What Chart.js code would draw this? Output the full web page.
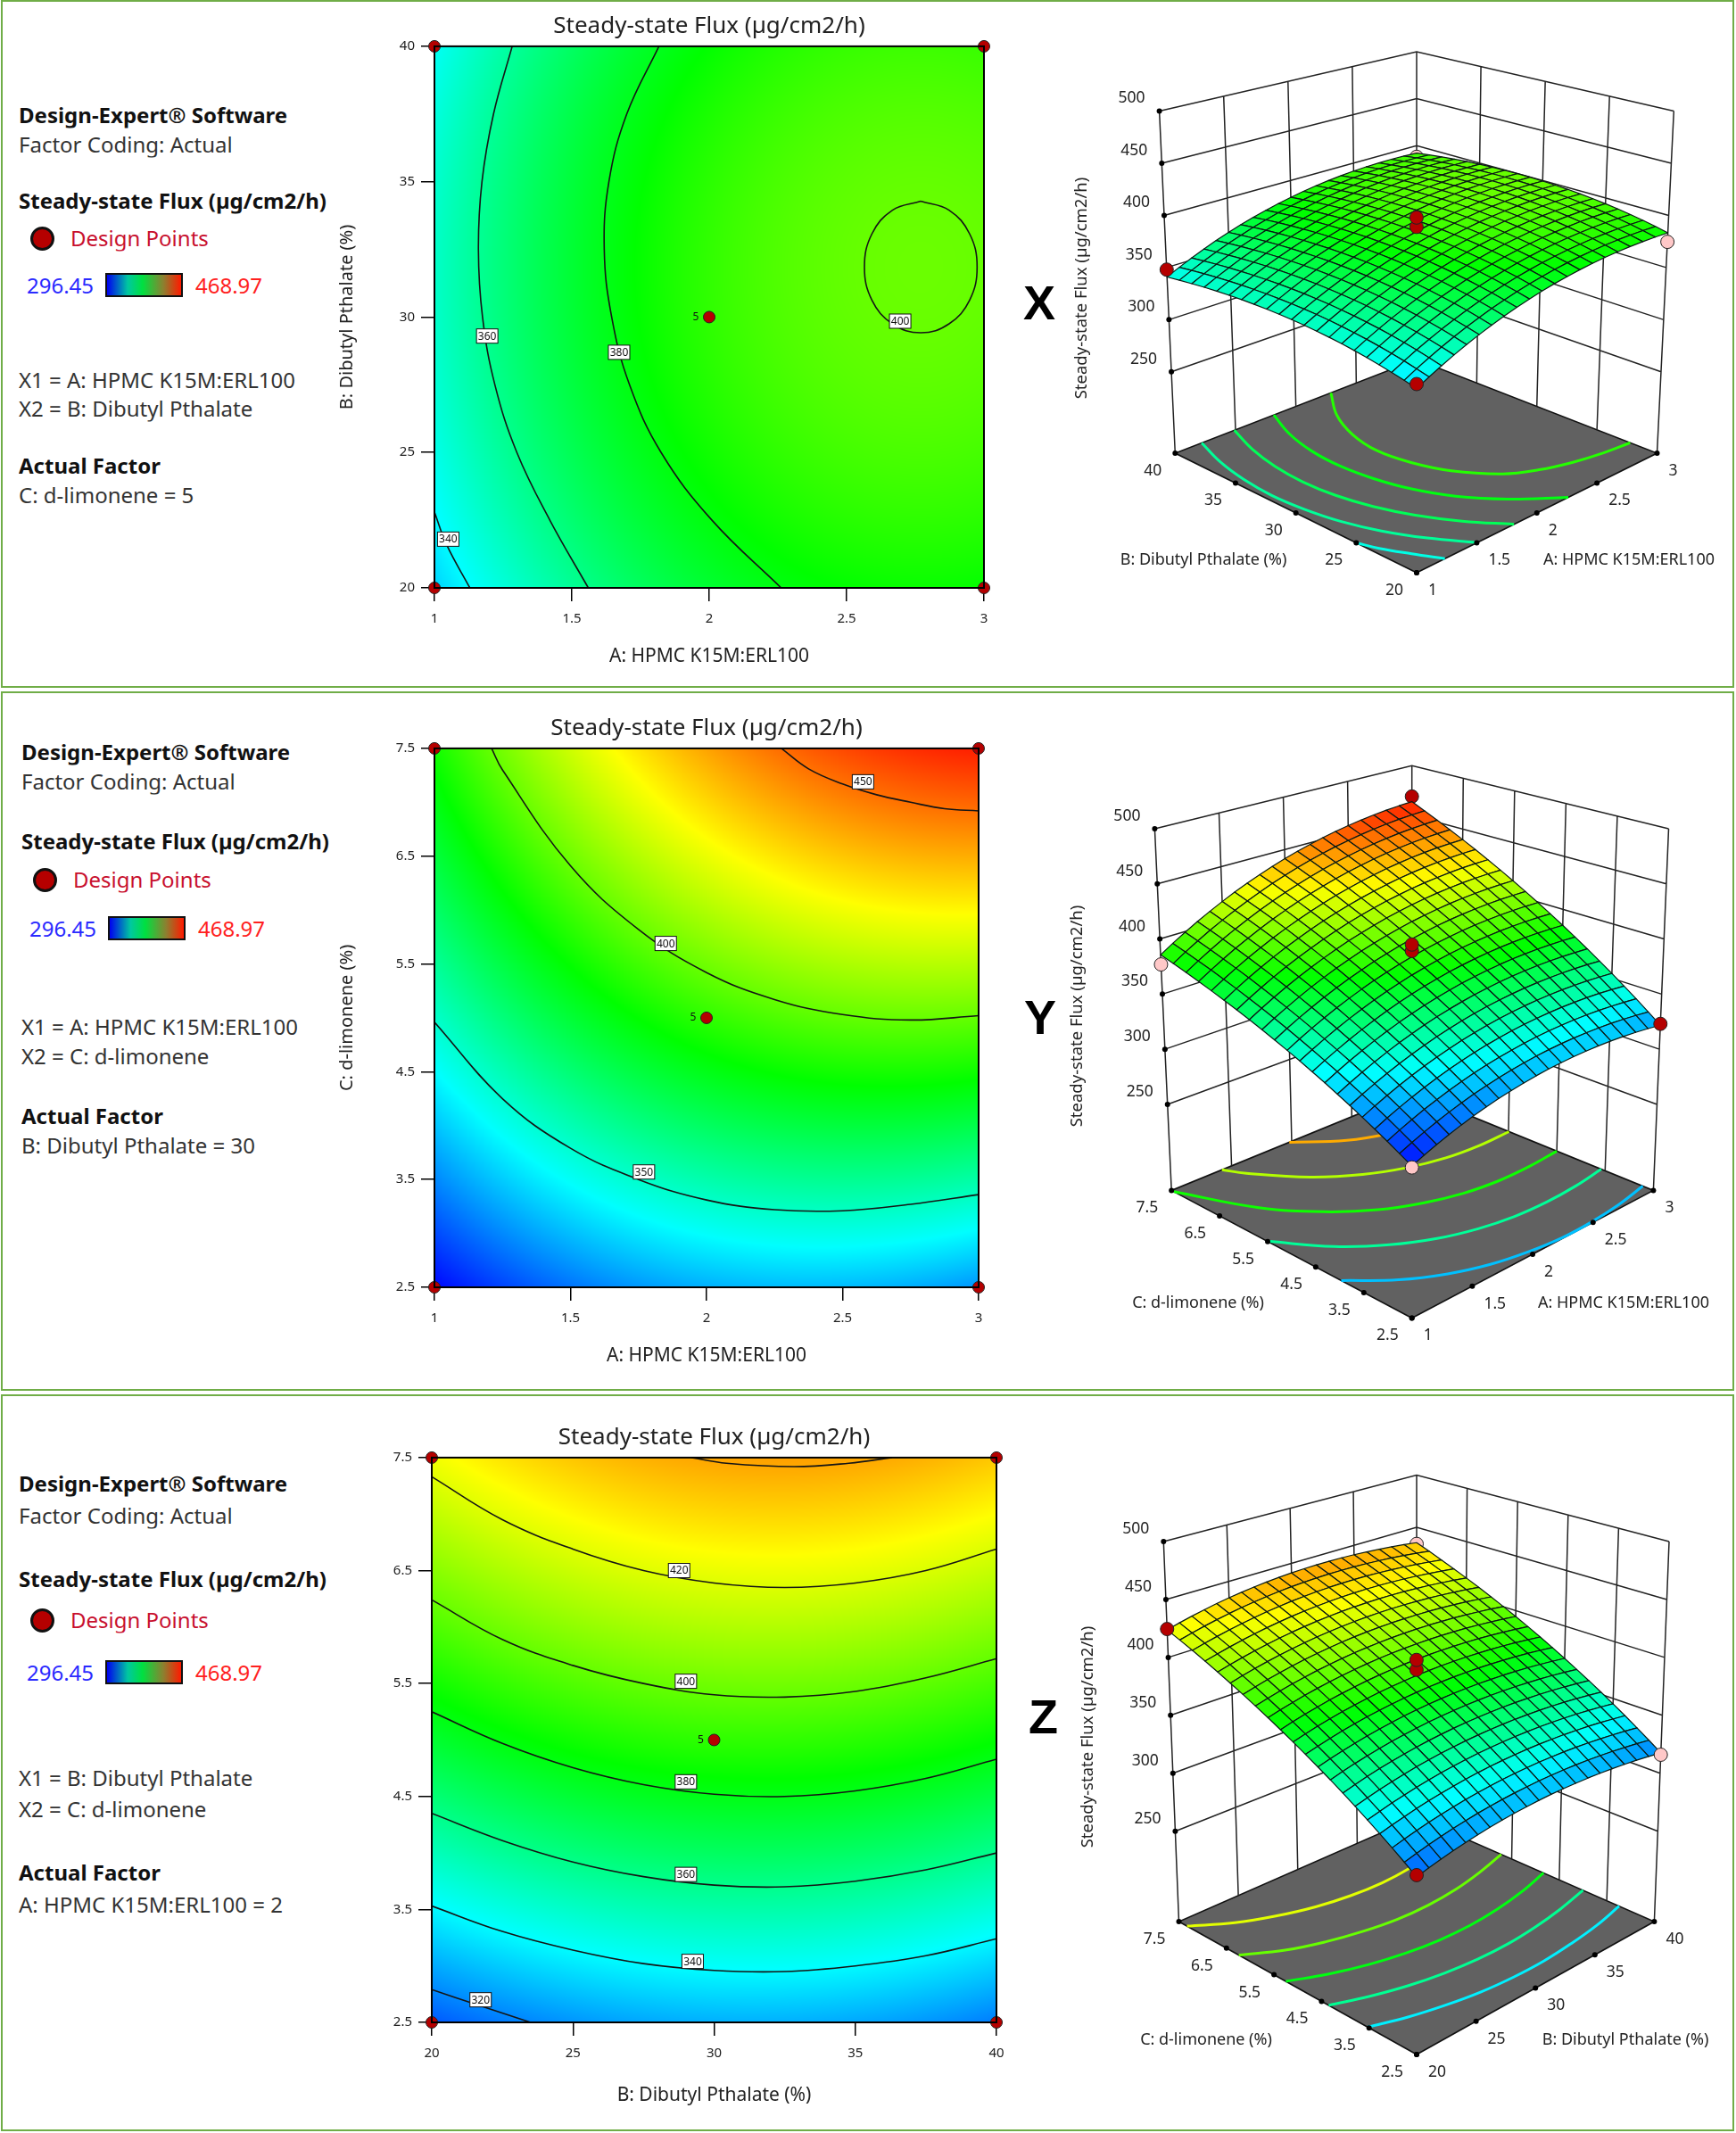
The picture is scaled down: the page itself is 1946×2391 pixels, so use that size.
<!DOCTYPE html>
<html>
<head>
<meta charset="utf-8">
<title>Steady-state Flux</title>
<script src="https://cdn.jsdelivr.net/npm/chart.js@4"></script>
<style>
body { margin: 0; width: 1946px; height: 2391px; position: relative; overflow: hidden; background: #fff; font-family: "Noto Sans", sans-serif; }
canvas { position: absolute; }
.frame { position: absolute; border: 2px solid #70ad47; box-sizing: border-box; }
.txt { position: absolute; white-space: nowrap; transform: translateY(-50%); line-height: 1.2; font-size: 24px; color: #333; overflow: hidden; }
.b { font-weight: 700; color: #111; }
.bar { position: absolute; box-sizing: border-box; border: 2px solid #111; background: linear-gradient(90deg, #0000f0, #00c8a0 28%, #00e040 48%, #8c8030 76%, #ff1a00); }
.dot { position: absolute; box-sizing: border-box; border-radius: 50%; background: #b50000; border: 3px solid #111; }
.letter { position: absolute; font: 700 54px "Liberation Sans", sans-serif; line-height: 1; color: #000; }
</style>
</head>
<body>
<script>
// tick labels
const ticksA = [1, 1.5, 2, 2.5, 3];
const ticksB = [20, 25, 30, 35, 40];
const ticksC = [2.5, 3.5, 4.5, 5.5, 6.5, 7.5];
const ticksFlux = [250, 300, 350, 400, 450, 500];
const fluxFloor = 172; // where the 3D flux axis meets the floor

// flux at 5 x 5 factor settings
// rows B = 20,25,30,35,40, columns A = 1,1.5,2,2.5,3 (C = 5)
const fluxAB = [
	[332.1, 357.3, 374.3, 382.9, 383.3],
	[343.2, 368.4, 385.3, 394.0, 394.3],
	[348.3, 373.5, 390.5, 399.1, 399.4],
	[347.5, 372.7, 389.7, 398.3, 398.7],
	[340.9, 366.1, 383.0, 391.7, 392.0]
];
// rows C = 2.5,3.75,5,6.25,7.5, columns A = 1,1.5,2,2.5,3 (B = 30)
const fluxAC = [
	[297.6, 316.1, 326.3, 328.2, 321.8],
	[324.6, 346.5, 360.1, 365.3, 362.3],
	[348.3, 373.5, 390.5, 399.1, 399.5],
	[368.6, 397.3, 417.6, 429.6, 433.3],
	[385.6, 417.6, 441.3, 456.7, 463.8]
];
// rows C = 2.5,3.75,5,6.25,7.5, columns B = 20,25,30,35,40 (A = 2)
const fluxBC = [
	[311.4, 321.8, 326.3, 324.9, 317.6],
	[344.6, 355.3, 360.1, 359.0, 352.0],
	[374.3, 385.4, 390.5, 389.7, 383.1],
	[400.8, 412.1, 417.6, 417.1, 410.8],
	[423.8, 435.5, 441.3, 441.2, 435.2]
];

// contour lines of the 2D plots
const contourAB340 = [[1, 22.8], [1.044, 21.6], [1.129, 20]];
const contourAB360 = [[1.283, 40], [1.215, 37.5], [1.173, 35], [1.16, 32.5], [1.175, 30], [1.22, 27.5], [1.3, 25], [1.42, 22.5], [1.56, 20]];
const contourAB380 = [[1.817, 40], [1.7, 37.5], [1.635, 35], [1.618, 32.5], [1.645, 30], [1.71, 27.5], [1.825, 25], [2.01, 22.5], [2.262, 20]];
const contourAB400 = [[2.77, 34.28], [2.873, 33.95], [2.948, 33.07], [2.975, 31.85], [2.948, 30.63], [2.873, 29.75], [2.77, 29.42], [2.667, 29.75], [2.592, 30.63], [2.565, 31.85], [2.592, 33.07], [2.667, 33.95], [2.77, 34.28]];

const contourAC350 = [[1, 4.96], [1.25, 4.25], [1.5, 3.79], [1.75, 3.5], [2, 3.31], [2.25, 3.22], [2.5, 3.21], [2.75, 3.27], [3, 3.36]];
const contourAC400 = [[1.21, 7.5], [1.25, 7.3], [1.5, 6.41], [1.75, 5.82], [2, 5.42], [2.25, 5.17], [2.5, 5.03], [2.75, 4.98], [3, 5.02]];
const contourAC450 = [[2.275, 7.5], [2.375, 7.31], [2.5, 7.17], [2.625, 7.07], [2.75, 7.0], [2.875, 6.94], [3, 6.92]];

const contourBC320 = [[20, 2.79], [21.68, 2.65], [23.5, 2.5]];
const contourBC340 = [[20, 3.53], [22.5, 3.305], [25, 3.14], [27.5, 3.02], [30, 2.96], [32.5, 2.95], [35, 3.0], [37.5, 3.09], [40, 3.24]];
const contourBC360 = [[20, 4.35], [22.5, 4.11], [25, 3.92], [27.5, 3.79], [30, 3.715], [32.5, 3.7], [35, 3.75], [37.5, 3.85], [40, 4.0]];
const contourBC380 = [[20, 5.25], [22.5, 4.97], [25, 4.755], [27.5, 4.605], [30, 4.52], [32.5, 4.5], [35, 4.55], [37.5, 4.66], [40, 4.83]];
const contourBC400 = [[20, 6.24], [22.5, 5.89], [25, 5.66], [27.5, 5.5], [30, 5.4], [32.5, 5.38], [35, 5.43], [37.5, 5.55], [40, 5.72]];
const contourBC420 = [[20, 7.33], [22.5, 6.95], [25, 6.69], [27.5, 6.5], [30, 6.39], [32.5, 6.35], [35, 6.39], [37.5, 6.5], [40, 6.69]];
const contourBC440 = [[29.2, 7.5], [30.44, 7.45], [32.83, 7.42], [34.77, 7.45], [36.3, 7.5]];

// contour labels: x, y, text
const labelsAB = [[1.05, 21.8, '340'], [1.192, 29.3, '360'], [1.672, 28.7, '380'], [2.695, 29.85, '400']];
const labelsAC = [[1.77, 3.57, '350'], [1.85, 5.69, '400'], [2.575, 7.19, '450']];
const labelsBC = [[21.73, 2.7, '320'], [29.24, 3.04, '340'], [29, 3.81, '360'], [29, 4.63, '380'], [29, 5.52, '400'], [28.76, 6.5, '420']];

// contours on the floor of the 3D plots, with their flux level
const floorAB = [
	[344, [[1, 25], [1.05, 23.6], [1.14, 21.8], [1.235, 20]]],
	[357, [[1.22, 40], [1.125, 37.5], [1.07, 35], [1.05, 32.5], [1.07, 30], [1.12, 27.5], [1.21, 25], [1.34, 22.5], [1.505, 20]]],
	[368, [[1.49, 40], [1.39, 37.5], [1.33, 35], [1.31, 32.5], [1.33, 30], [1.39, 27.5], [1.49, 25], [1.63, 22.5], [1.81, 20]]],
	[380, contourAB380],
	[389, [[2.29, 40], [2.09, 37.5], [1.97, 35], [1.92, 32.5], [1.95, 30], [2.04, 27.5], [2.22, 25], [2.4, 23.8], [2.6, 23], [2.8, 22.5], [3, 22.24]]]
];
const floorAC = [
	[329, [[1, 3.97], [1.25, 3.4], [1.5, 3.01], [1.75, 2.75], [2, 2.6], [2.25, 2.52], [2.5, 2.525], [2.75, 2.59], [3, 2.72]]],
	[357, [[1, 5.51], [1.25, 4.74], [1.5, 4.22], [1.75, 3.86], [2, 3.63], [2.25, 3.5], [2.5, 3.46], [2.75, 3.49], [3, 3.58]]],
	[385, [[1, 7.45], [1.25, 6.31], [1.5, 5.59], [1.75, 5.09], [2, 4.77], [2.25, 4.56], [2.5, 4.46], [2.75, 4.45], [3, 4.5]]],
	[413, [[1.42, 7.5], [1.5, 7.19], [1.75, 6.49], [2, 6.03], [2.25, 5.73], [2.5, 5.55], [2.75, 5.48], [3, 5.49]]],
	[440, [[1.98, 7.5], [2.25, 6.98], [2.5, 6.71], [2.75, 6.57], [3, 6.51]]]
];
const floorBC = [
	[337, contourBC340],
	[358, contourBC360],
	[380, contourBC380],
	[400, contourBC400],
	[421, contourBC420]
];

// design points: first factor, second factor, flux
const designAB = [[1, 20, 336], [1, 40, 348], [3, 20, 374.6], [3, 40, 388], [2, 30, 395], [2, 30, 404]];
const designAC = [[1, 2.5, 296.45], [1, 7.5, 376.9], [3, 2.5, 323], [3, 7.5, 468.97], [2, 5, 395.8], [2, 5, 401.6]];
const designBC = [[20, 2.5, 312.8], [20, 7.5, 424.5], [40, 2.5, 316], [40, 7.5, 434], [30, 5, 395.5], [30, 5, 404]];
const centerCount = '5';

const plotTitle = 'Steady-state Flux (µg/cm2/h)';
const nameA = 'A: HPMC K15M:ERL100';
const nameB = 'B: Dibutyl Pthalate (%)';
const nameC = 'C: d-limonene (%)';

const fluxMin = 296.45;
const fluxMax = 468.97;
const colorStops = [[0, 0, 255], [0, 255, 255], [0, 255, 0], [255, 255, 0], [255, 0, 0]];

Chart.defaults.font.family = '"Noto Sans", sans-serif';

function fluxRgb(v) {
	const t = Math.min(0.9999, Math.max(0, (v - fluxMin) / (fluxMax - fluxMin))) * 4;
	const i = Math.floor(t), f = t - i;
	const a = colorStops[i], b = colorStops[i + 1];
	return [a[0] + (b[0] - a[0]) * f, a[1] + (b[1] - a[1]) * f, a[2] + (b[2] - a[2]) * f];
}
function fluxColor(v) {
	const c = fluxRgb(v);
	return 'rgb(' + Math.round(c[0]) + ',' + Math.round(c[1]) + ',' + Math.round(c[2]) + ')';
}

// shading weights between the 5 table rows / columns
function nodeWeights(t) {
	const w = [];
	for (let i = 0; i < 5; i++) {
		let p = 1;
		for (let j = 0; j < 5; j++) {
			if (j !== i) p *= (t - j / 4) / ((i - j) / 4);
		}
		w.push(p);
	}
	return w;
}
function tableValue(table, wu, wv) {
	let s = 0;
	for (let r = 0; r < 5; r++) {
		for (let c = 0; c < 5; c++) s += table[r][c] * wu[c] * wv[r];
	}
	return s;
}

const toXY = (p) => ({ x: p[0], y: p[1] });
const at = (arr) => arr[0];
const last = (arr) => arr[arr.length - 1];

// ---------- page furniture ----------
function addText(text, x, y, cls, color, width) {
	const d = document.createElement('div');
	d.className = 'txt ' + (cls || '');
	d.textContent = text;
	d.style.left = x + 'px';
	d.style.top = y + 'px';
	if (color) d.style.color = color;
	if (width) d.style.width = width + 'px';
	document.body.appendChild(d);
}
function addBox(cls, x, y, w, h) {
	const d = document.createElement('div');
	d.className = cls;
	d.style.cssText = 'left:' + x + 'px;top:' + y + 'px;width:' + w + 'px;height:' + h + 'px';
	document.body.appendChild(d);
}
function addSidebar(s) {
	addText('Design-Expert® Software', s.x, s.y[0], 'b');
	addText('Factor Coding: Actual', s.x, s.y[1]);
	addText(plotTitle, s.x, s.y[2], 'b', null, s.clip);
	addBox('dot', s.x + 13, s.y[3] - 13, 27, 27);
	addText('Design Points', s.x + 58, s.y[3], '', '#c8102e');
	addText('296.45', s.x + 9, s.y[4], '', '#2a2aff');
	addBox('bar', s.x + 97, s.y[4] - 14, 87, 27);
	addText('468.97', s.x + 198, s.y[4], '', '#ff2020');
	addText(s.lines[0], s.x, s.y[5]);
	addText(s.lines[1], s.x, s.y[6]);
	addText('Actual Factor', s.x, s.y[7], 'b');
	addText(s.lines[2], s.x, s.y[8]);
}
function addLetter(text, x, y) {
	const d = document.createElement('div');
	d.className = 'letter';
	d.textContent = text;
	d.style.left = x + 'px';
	d.style.top = y + 'px';
	document.body.appendChild(d);
}
function newCanvas(x, y, w, h) {
	const c = document.createElement('canvas');
	c.width = w;
	c.height = h;
	c.style.left = x + 'px';
	c.style.top = y + 'px';
	document.body.appendChild(c);
	return c;
}

addBox('frame', 1, 0, 1943, 771);
addBox('frame', 1, 775, 1943, 784);
addBox('frame', 1, 1563, 1943, 826);

addSidebar({ x: 21, y: [129, 162, 225, 267, 320, 426, 458, 522, 555],
	lines: ['X1 = A: HPMC K15M:ERL100', 'X2 = B: Dibutyl Pthalate', 'C: d-limonene = 5'] });
addSidebar({ x: 24, y: [843, 876, 943, 986, 1041, 1151, 1184, 1251, 1284], clip: 347,
	lines: ['X1 = A: HPMC K15M:ERL100', 'X2 = C: d-limonene', 'B: Dibutyl Pthalate = 30'] });
addSidebar({ x: 21, y: [1663, 1699, 1770, 1816, 1875, 1993, 2028, 2099, 2135],
	lines: ['X1 = B: Dibutyl Pthalate', 'X2 = C: d-limonene', 'A: HPMC K15M:ERL100 = 2'] });

addLetter('X', 1147, 312);
addLetter('Y', 1148, 1113);
addLetter('Z', 1153, 1897);

// ---------- 2D contour plots ----------
function heatPlugin(table) {
	return {
		id: 'heat',
		beforeDatasetsDraw(chart) {
			const a = chart.chartArea, xs = chart.scales.x, ys = chart.scales.y;
			const w = Math.round(a.right - a.left), h = Math.round(a.bottom - a.top);
			const off = document.createElement('canvas');
			off.width = w;
			off.height = h;
			const octx = off.getContext('2d');
			const img = octx.createImageData(w, h);
			const wx = [], wy = [];
			for (let i = 0; i < w; i++) wx.push(nodeWeights((xs.getValueForPixel(a.left + i + 0.5) - xs.min) / (xs.max - xs.min)));
			for (let j = 0; j < h; j++) wy.push(nodeWeights((ys.getValueForPixel(a.top + j + 0.5) - ys.min) / (ys.max - ys.min)));
			let k = 0;
			for (let j = 0; j < h; j++) {
				for (let i = 0; i < w; i++) {
					const c = fluxRgb(tableValue(table, wx[i], wy[j]));
					img.data[k++] = c[0];
					img.data[k++] = c[1];
					img.data[k++] = c[2];
					img.data[k++] = 255;
				}
			}
			octx.putImageData(img, 0, 0);
			chart.ctx.drawImage(off, a.left, a.top);
		}
	};
}

const contourLabelPlugin = {
	id: 'contourLabels',
	afterDatasetsDraw(chart) {
		const { ctx, chartArea: a, scales: { x, y } } = chart;
		ctx.save();
		ctx.strokeStyle = '#000';
		ctx.lineWidth = 2;
		ctx.strokeRect(a.left, a.top, a.right - a.left, a.bottom - a.top);
		ctx.font = '12px "Noto Sans"';
		ctx.textAlign = 'center';
		ctx.textBaseline = 'middle';
		chart.config.options.contourLabels.forEach((l) => {
			const px = x.getPixelForValue(l[0]), py = y.getPixelForValue(l[1]);
			ctx.fillStyle = '#fff';
			ctx.fillRect(px - 12, py - 8, 24, 16);
			ctx.strokeStyle = '#111';
			ctx.lineWidth = 1;
			ctx.strokeRect(px - 12, py - 8, 24, 16);
			ctx.fillStyle = '#111';
			ctx.fillText(l[2], px, py + 0.5);
		});
		// replicate count beside the centre point
		const c = chart.config.options.centerPoint;
		ctx.fillStyle = '#111';
		ctx.fillText(centerCount, x.getPixelForValue(c[0]) - 15, y.getPixelForValue(c[1]));
		ctx.restore();
	}
};

function contourChart(cfg) {
	const p = cfg.plot;
	const canvas = newCanvas(p.l - 110, p.t - 37, p.r - p.l + 140, p.b - p.t + 37 + cfg.under);
	const xMin = at(cfg.xTicks), xMax = last(cfg.xTicks), yMin = at(cfg.yTicks), yMax = last(cfg.yTicks);
	const lines = cfg.contours.map((c) => ({
		data: c.map(toXY), showLine: true, pointRadius: 0, tension: 0.4,
		borderColor: '#151515', borderWidth: 1.6
	}));
	const points = [[xMin, yMin], [xMin, yMax], [xMax, yMin], [xMax, yMax], cfg.center];
	lines.push({
		data: points.map(toXY), pointRadius: 6.5, pointBackgroundColor: '#b50000',
		pointBorderColor: '#222', pointBorderWidth: 1, clip: false
	});
	const tickSide = { drawOnChartArea: false, drawTicks: true, tickLength: 15, color: '#000', lineWidth: 1.5 };
	new Chart(canvas, {
		type: 'scatter',
		data: { datasets: lines },
		plugins: [heatPlugin(cfg.table), contourLabelPlugin],
		options: {
			responsive: false,
			animation: false,
			events: [],
			contourLabels: cfg.labels,
			centerPoint: cfg.center,
			layout: { autoPadding: false, padding: { right: 30 } },
			plugins: {
				legend: { display: false },
				tooltip: { enabled: false },
				title: {
					display: true, text: plotTitle, fullSize: false, color: '#222',
					font: { size: 26, weight: 'normal', lineHeight: 1.15 },
					padding: { top: 0, bottom: 7 }
				}
			},
			scales: {
				x: {
					type: 'linear', min: xMin, max: xMax,
					grid: tickSide,
					border: { color: '#000', width: 2 },
					ticks: { color: '#222', font: { size: 15 }, padding: 11, maxRotation: 0, autoSkip: false, callback: (v) => String(v) },
					title: { display: true, text: cfg.xTitle, color: '#222', font: { size: 21 }, padding: 0 },
					afterBuildTicks: (s) => { s.ticks = cfg.xTicks.map((v) => ({ value: v })); },
					afterFit: (s) => { s.height = cfg.under; s.paddingLeft = 0; s.paddingRight = 0; }
				},
				y: {
					type: 'linear', min: yMin, max: yMax,
					grid: tickSide,
					border: { color: '#000', width: 2 },
					ticks: { color: '#222', font: { size: 15 }, padding: 7, autoSkip: false, callback: (v) => String(v) },
					title: { display: !!cfg.yTitle, text: cfg.yTitle || '', color: '#222', font: { size: 20 }, padding: 0 },
					afterBuildTicks: (s) => { s.ticks = cfg.yTicks.map((v) => ({ value: v })); },
					afterFit: (s) => { s.width = 110; s.paddingTop = 0; s.paddingBottom = 0; }
				}
			}
		}
	});
}

contourChart({
	plot: { l: 487, r: 1103, t: 52, b: 659 }, under: 90,
	xTicks: ticksA, yTicks: ticksB, xTitle: nameA, yTitle: nameB,
	table: fluxAB, center: [2, 30], labels: labelsAB,
	contours: [contourAB340, contourAB360, contourAB380, contourAB400]
});
contourChart({
	plot: { l: 487, r: 1097, t: 839, b: 1443 }, under: 90,
	xTicks: ticksA, yTicks: ticksC, xTitle: nameA, yTitle: nameC,
	table: fluxAC, center: [2, 5], labels: labelsAC,
	contours: [contourAC350, contourAC400, contourAC450]
});
contourChart({
	plot: { l: 484, r: 1117, t: 1634, b: 2267 }, under: 95,
	xTicks: ticksB, yTicks: ticksC, xTitle: nameB,
	table: fluxBC, center: [30, 5], labels: labelsBC,
	contours: [contourBC320, contourBC340, contourBC360, contourBC380, contourBC400, contourBC420, contourBC440]
});

// ---------- 3D surface plots ----------
// the box is given by its eight corners on the hidden x/y scales:
// f front, r right, l left, k back; the *t ones are the top of the box
function boxPoint(box, u, v, w) {
	const bil = (a, b, c, d, i) => (1 - u) * (1 - v) * a[i] + u * (1 - v) * b[i] + (1 - u) * v * c[i] + u * v * d[i];
	const out = [];
	for (let i = 0; i < 2; i++) {
		out.push((1 - w) * bil(box.f, box.r, box.l, box.k, i) + w * bil(box.ft, box.rt, box.lt, box.kt, i));
	}
	return { x: out[0], y: out[1] };
}

function surfacePlugin(table, box, toW) {
	return {
		id: 'surface',
		beforeDatasetDraw(chart, args) {
			if (!chart.data.datasets[args.index].inFrontOfSurface) return;
			const { ctx, scales: { x, y } } = chart;
			const n = 20;
			const px = [], val = [];
			for (let j = 0; j <= n; j++) {
				px.push([]);
				val.push([]);
				const wv = nodeWeights(j / n);
				for (let i = 0; i <= n; i++) {
					const v = tableValue(table, nodeWeights(i / n), wv);
					const p = boxPoint(box, i / n, j / n, toW(v));
					px[j].push([x.getPixelForValue(p.x), y.getPixelForValue(p.y)]);
					val[j].push(v);
				}
			}
			ctx.save();
			ctx.lineJoin = 'round';
			for (let j = n - 1; j >= 0; j--) {
				for (let i = n - 1; i >= 0; i--) {
					ctx.beginPath();
					ctx.moveTo(px[j][i][0], px[j][i][1]);
					ctx.lineTo(px[j][i + 1][0], px[j][i + 1][1]);
					ctx.lineTo(px[j + 1][i + 1][0], px[j + 1][i + 1][1]);
					ctx.lineTo(px[j + 1][i][0], px[j + 1][i][1]);
					ctx.closePath();
					ctx.fillStyle = fluxColor((val[j][i] + val[j][i + 1] + val[j + 1][i] + val[j + 1][i + 1]) / 4);
					ctx.fill();
					ctx.strokeStyle = '#0a1a14';
					ctx.lineWidth = 1.2;
					ctx.stroke();
				}
			}
			ctx.restore();
		}
	};
}

const boxTextPlugin = {
	id: 'boxText',
	afterDatasetsDraw(chart) {
		const { ctx, scales: { x, y } } = chart;
		const o = chart.config.options.boxText;
		ctx.save();
		ctx.fillStyle = '#222';
		ctx.font = '17.5px "Noto Sans"';
		ctx.textBaseline = 'middle';
		const put = (t, p, dx, dy, align) => {
			ctx.textAlign = align;
			ctx.fillText(t, x.getPixelForValue(p.x) + dx, y.getPixelForValue(p.y) + dy);
		};
		o.uLabels.forEach((l) => put(String(l[0]), l[1], 13, 20, 'left'));
		o.vLabels.forEach((l) => put(String(l[0]), l[1], -15, 20, 'right'));
		o.zLabels.forEach((l) => put(String(l[0]), l[1], -16, -14, 'right'));
		ctx.font = '18px "Noto Sans"';
		ctx.textAlign = 'center';
		ctx.fillText(o.uName, x.getPixelForValue(o.uAt[0]), y.getPixelForValue(o.uAt[1]));
		ctx.fillText(o.vName, x.getPixelForValue(o.vAt[0]), y.getPixelForValue(o.vAt[1]));
		ctx.translate(x.getPixelForValue(o.zAt[0]), y.getPixelForValue(o.zAt[1]));
		ctx.rotate(-Math.PI / 2);
		ctx.font = '18.5px "Noto Sans"';
		ctx.fillText(plotTitle, 0, 0);
		ctx.restore();
	}
};

function surfaceChart(cfg) {
	const a = cfg.area, box = cfg.box;
	const canvas = newCanvas(a.x, a.y, a.w, a.h);
	const uMin = at(cfg.uTicks), uSpan = last(cfg.uTicks) - uMin;
	const vMin = at(cfg.vTicks), vSpan = last(cfg.vTicks) - vMin;
	const U = (t) => (t - uMin) / uSpan, V = (t) => (t - vMin) / vSpan;
	const W = (z) => (z - fluxFloor) / (500 - fluxFloor);
	const gap = { x: null, y: null };

	// walls
	const walls = [];
	ticksFlux.forEach((z) => {
		walls.push(boxPoint(box, 0, 1, W(z)), boxPoint(box, 1, 1, W(z)), boxPoint(box, 1, 0, W(z)), gap);
	});
	cfg.uTicks.forEach((t) => walls.push(boxPoint(box, U(t), 1, 0), boxPoint(box, U(t), 1, 1), gap));
	cfg.vTicks.forEach((t) => walls.push(boxPoint(box, 1, V(t), 0), boxPoint(box, 1, V(t), 1), gap));

	const floorDots = [];
	cfg.uTicks.forEach((t) => floorDots.push(boxPoint(box, U(t), 0, 0)));
	cfg.vTicks.forEach((t) => floorDots.push(boxPoint(box, 0, V(t), 0)));
	ticksFlux.forEach((z) => floorDots.push(boxPoint(box, 0, 1, W(z))));

	const datasets = [];
	datasets.push({
		data: [boxPoint(box, 0, 0, 0), boxPoint(box, 1, 0, 0), boxPoint(box, 1, 1, 0), boxPoint(box, 0, 1, 0), boxPoint(box, 0, 0, 0)],
		showLine: true, pointRadius: 0, fill: 'shape', backgroundColor: '#616161', borderColor: '#111', borderWidth: 1.6, order: 10
	});
	datasets.push({ data: walls, showLine: true, pointRadius: 0, borderColor: '#222', borderWidth: 1.5, order: 9 });
	cfg.floor.forEach((f) => {
		datasets.push({
			data: f[1].map((q) => boxPoint(box, U(q[0]), V(q[1]), 0)),
			showLine: true, pointRadius: 0, tension: 0.4, borderColor: fluxColor(f[0]), borderWidth: 3, order: 8
		});
	});
	datasets.push({ data: floorDots, pointRadius: 3, pointBackgroundColor: '#000', pointBorderWidth: 0, order: 7 });

	// points under the surface are drawn pale
	const shade = (d) => {
		const v = tableValue(cfg.table, nodeWeights(U(d[0])), nodeWeights(V(d[1])));
		return d[2] >= v ? '#b50000' : '#ffc8c8';
	};
	const pos = (d) => boxPoint(box, U(d[0]), V(d[1]), W(d[2]));
	const isBack = (d) => U(d[0]) === 1 && V(d[1]) === 1;
	const back = cfg.design.filter(isBack), front = cfg.design.filter((d) => !isBack(d));
	datasets.push({
		data: back.map(pos), pointRadius: 7.5, pointBackgroundColor: back.map(shade),
		pointBorderColor: '#222', pointBorderWidth: 1, order: 6
	});
	datasets.push({
		data: front.map(pos), pointRadius: 7.5, pointBackgroundColor: front.map(shade),
		pointBorderColor: '#222', pointBorderWidth: 1, order: 1, inFrontOfSurface: true
	});

	new Chart(canvas, {
		type: 'scatter',
		data: { datasets: datasets },
		plugins: [surfacePlugin(cfg.table, box, W), boxTextPlugin],
		options: {
			responsive: false,
			animation: false,
			events: [],
			boxText: {
				uLabels: cfg.uTicks.map((t) => [t, boxPoint(box, U(t), 0, 0)]),
				vLabels: cfg.vTicks.map((t) => [t, boxPoint(box, 0, V(t), 0)]),
				zLabels: ticksFlux.map((z) => [z, boxPoint(box, 0, 1, W(z))]),
				uName: cfg.uName, vName: cfg.vName, uAt: cfg.uAt, vAt: cfg.vAt, zAt: cfg.zAt
			},
			layout: { autoPadding: false },
			plugins: { legend: { display: false }, tooltip: { enabled: false } },
			scales: {
				x: { type: 'linear', display: false, min: a.x, max: a.x + a.w },
				y: { type: 'linear', display: false, min: a.y, max: a.y + a.h, reverse: true }
			}
		}
	});
}

surfaceChart({
	area: { x: 1190, y: 30, w: 750, h: 700 },
	box: { f: [1588, 642], r: [1857.5, 508], l: [1317.3, 508], k: [1588, 403], ft: [1588, 219], rt: [1876.3, 124.5], lt: [1299.6, 124.5], kt: [1588, 58] },
	uTicks: ticksA, vTicks: ticksB, table: fluxAB, floor: floorAB, design: designAB,
	uName: nameA, vName: nameB, uAt: [1826, 628], vAt: [1349, 628], zAt: [1213, 323]
});
surfaceChart({
	area: { x: 1190, y: 845, w: 750, h: 690 },
	box: { f: [1582.7, 1477.5], r: [1853.4, 1334.4], l: [1313.2, 1334.4], k: [1582.7, 1224.2], ft: [1582.7, 1032.5], rt: [1870.5, 928.9], lt: [1294.4, 928.9], kt: [1582.7, 858.2] },
	uTicks: ticksA, vTicks: ticksC, table: fluxAC, floor: floorAC, design: designAC,
	uName: nameA, vName: nameC, uAt: [1820, 1461], vAt: [1343, 1461], zAt: [1208, 1139]
});
surfaceChart({
	area: { x: 1190, y: 1640, w: 750, h: 720 },
	box: { f: [1588, 2303], r: [1854.4, 2154], l: [1321.5, 2154], k: [1588, 2037], ft: [1588, 1834.6], rt: [1871, 1728], lt: [1304.3, 1728], kt: [1588, 1653.5] },
	uTicks: ticksB, vTicks: ticksC, table: fluxBC, floor: floorBC, design: designBC,
	uName: nameB, vName: nameC, uAt: [1822, 2287], vAt: [1352, 2287], zAt: [1219.5, 1947]
});
</script>
</body>
</html>
